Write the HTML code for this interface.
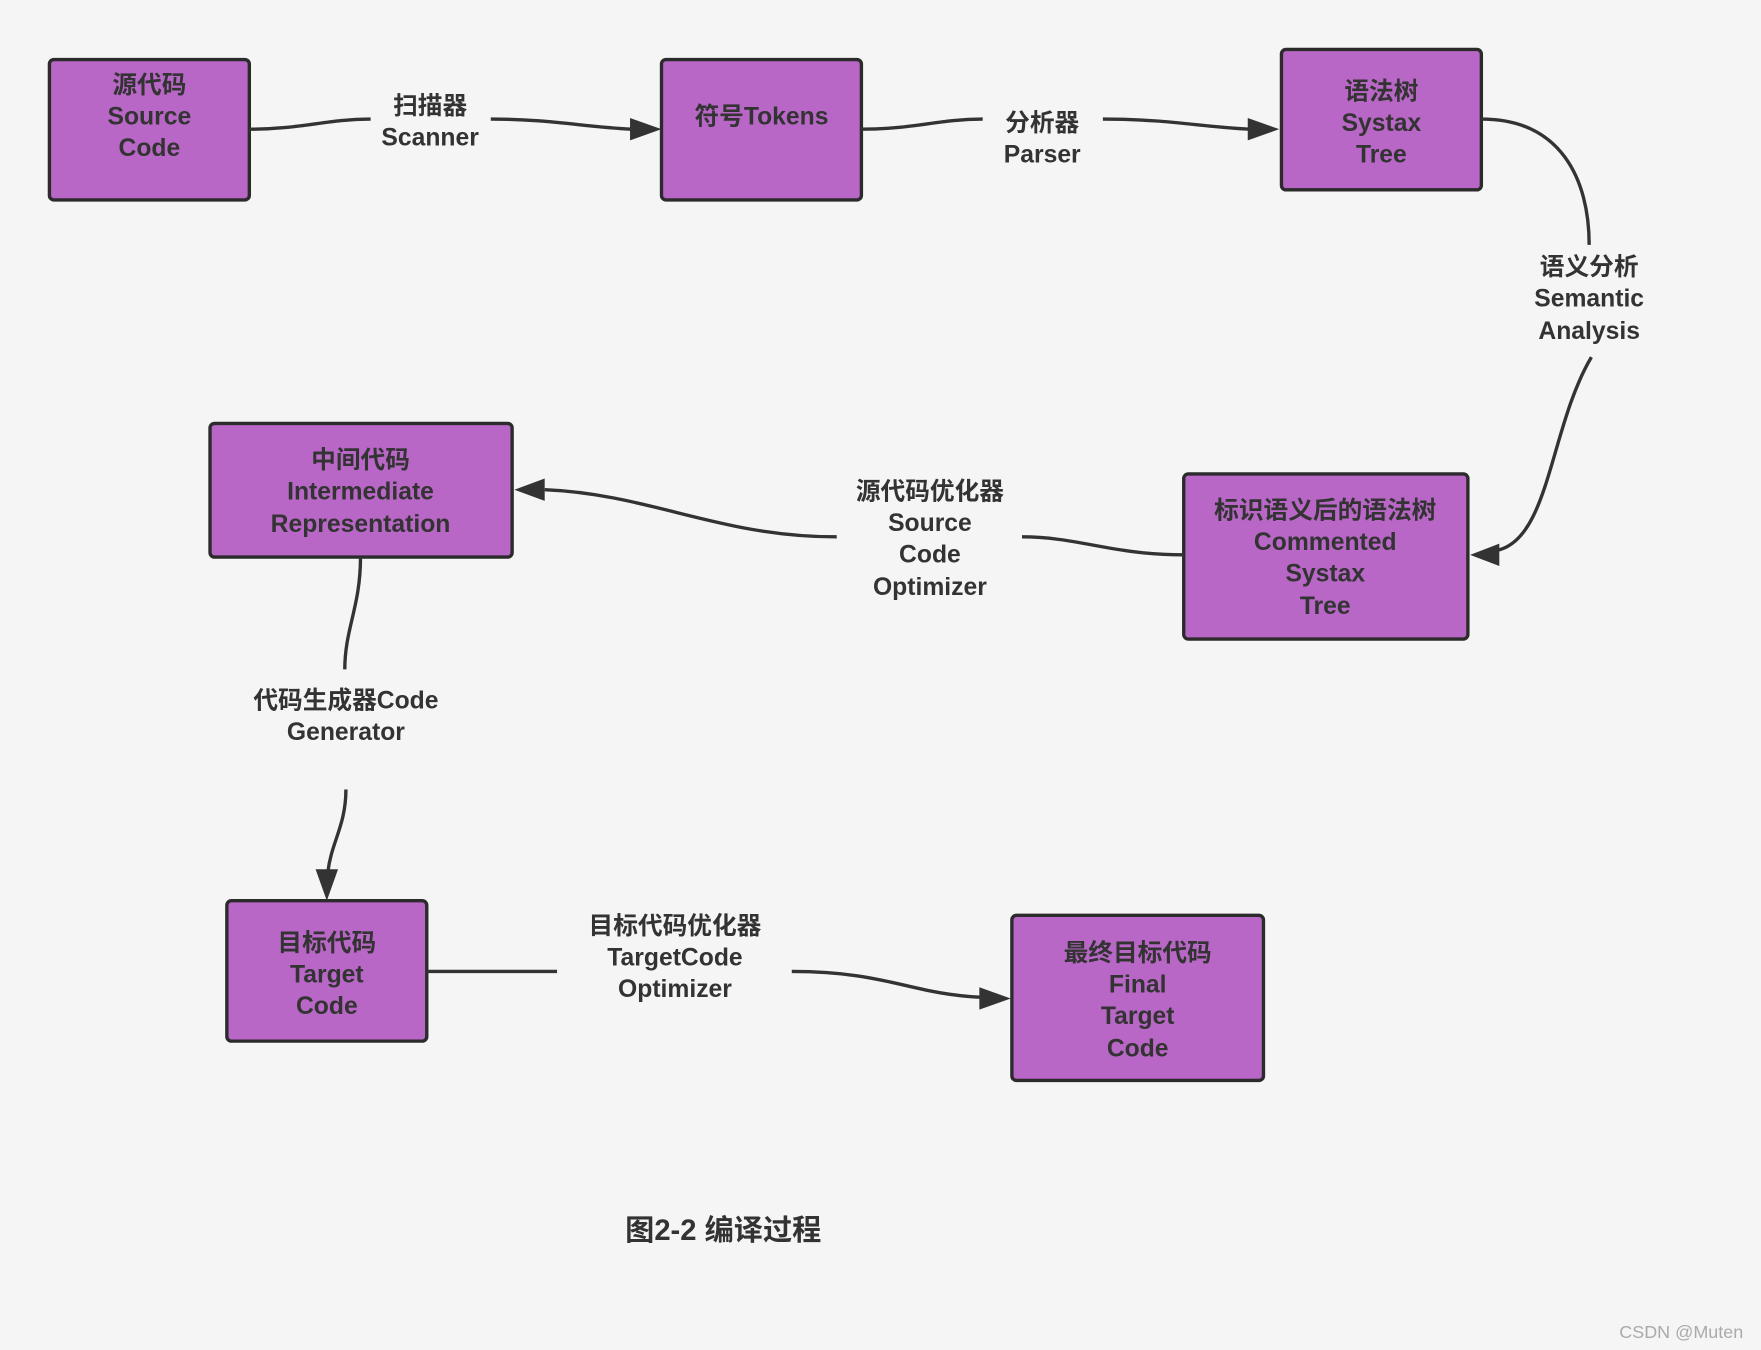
<!DOCTYPE html>
<html><head><meta charset="utf-8"><style>
html,body{margin:0;padding:0;background:#f5f5f5;}
svg{display:block;}
text{font-family:"Liberation Sans","Noto Sans CJK SC",sans-serif;font-weight:bold;fill:#333;font-size:22px;text-anchor:middle;dominant-baseline:central;}
.b{fill:#b967c7;stroke:#2b2b2b;stroke-width:3;}
.l{fill:none;stroke:#333;stroke-width:3;}
.a{fill:#333;}
</style></head><body>
<svg width="1761" height="1350" viewBox="0 0 1568 1202" xmlns="http://www.w3.org/2000/svg">
<rect width="1568" height="1202" fill="#f5f5f5"/>
<!-- boxes -->
<rect class="b" x="44" y="53" width="178" height="125" rx="4"/>
<text x="133" y="76">源代码</text><text x="133" y="104">Source</text><text x="133" y="132">Code</text>
<rect class="b" x="589" y="53" width="178" height="125" rx="4"/>
<text x="678" y="104">符号Tokens</text>
<rect class="b" x="1141" y="44" width="178" height="125" rx="4"/>
<text x="1230" y="82">语法树</text><text x="1230" y="110">Systax</text><text x="1230" y="138">Tree</text>
<rect class="b" x="1054" y="422" width="253" height="147" rx="4"/>
<text x="1180" y="455">标识语义后的语法树</text><text x="1180" y="483">Commented</text><text x="1180" y="511">Systax</text><text x="1180" y="540">Tree</text>
<rect class="b" x="187" y="377" width="269" height="119" rx="4"/>
<text x="321" y="410">中间代码</text><text x="321" y="438">Intermediate</text><text x="321" y="467">Representation</text>
<rect class="b" x="202" y="802" width="178" height="125" rx="4"/>
<text x="291" y="840">目标代码</text><text x="291" y="868">Target</text><text x="291" y="896">Code</text>
<rect class="b" x="901" y="815" width="224" height="147" rx="4"/>
<text x="1013" y="849">最终目标代码</text><text x="1013" y="877">Final</text><text x="1013" y="905">Target</text><text x="1013" y="934">Code</text>
<!-- connectors -->
<path class="l" d="M222,115 C270,115 290,106 330,106"/>
<path class="l" d="M437,106 C490,106 520,113 562,115"/>
<polygon class="a" points="589,115 561,105 561,125"/>
<text x="383" y="95">扫描器</text><text x="383" y="123">Scanner</text>

<path class="l" d="M767,115 C815,115 835,106 875,106"/>
<path class="l" d="M982,106 C1040,106 1070,113 1113,115"/>
<polygon class="a" points="1139,115 1111,105 1111,125"/>
<text x="928" y="110">分析器</text><text x="928" y="138">Parser</text>

<path class="l" d="M1319,106 C1390,106 1415,160 1415,218"/>
<path class="l" d="M1417,318 C1380,380 1380,480 1333,490"/>
<polygon class="a" points="1309,494 1335,484 1335,504"/>
<text x="1415" y="238">语义分析</text><text x="1415" y="266">Semantic</text><text x="1415" y="295">Analysis</text>

<path class="l" d="M1054,494 C990,494 960,478 910,478"/>
<path class="l" d="M745,478 C640,478 580,440 485,436"/>
<polygon class="a" points="458,436 485,426 485,446"/>
<text x="828" y="438">源代码优化器</text><text x="828" y="466">Source</text><text x="828" y="494">Code</text><text x="828" y="523">Optimizer</text>

<path class="l" d="M321,496 C321,540 307,560 307,596"/>
<path class="l" d="M308,703 C308,735 295,750 292,776"/>
<polygon class="a" points="291,802 281,774 301,774"/>
<text x="308" y="624">代码生成器Code</text><text x="308" y="652">Generator</text>

<path class="l" d="M380,865 L496,865"/>
<path class="l" d="M705,865 C790,865 810,885 874,888"/>
<polygon class="a" points="900,889 872,879 872,899"/>
<text x="601" y="825">目标代码优化器</text><text x="601" y="853">TargetCode</text><text x="601" y="881">Optimizer</text>

<text x="644" y="1096" style="font-size:26px">图2-2 编译过程</text>
<text x="1497" y="1186" style="font-size:16px;font-weight:normal;fill:#aaa">CSDN @Muten</text>
</svg>
</body></html>
